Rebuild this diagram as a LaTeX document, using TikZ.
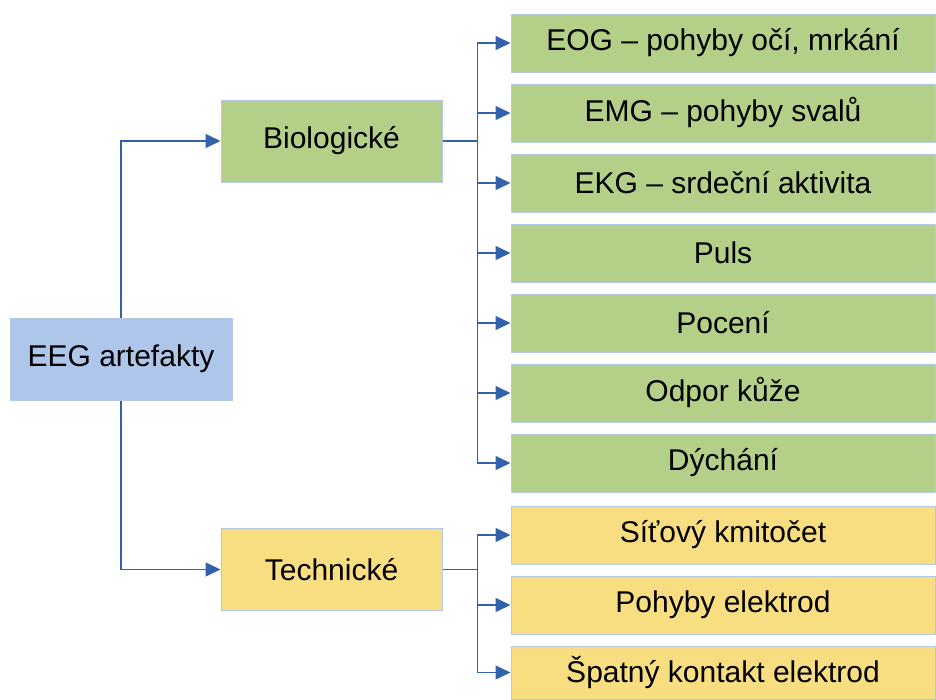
\documentclass[tikz,border=0pt]{standalone}
\usepackage{fontspec}
\setmainfont{Liberation Sans}
\usetikzlibrary{arrows.meta}
\definecolor{linkc}{RGB}{52,98,170}
\definecolor{edgec}{RGB}{180,200,232}
\definecolor{fblue}{RGB}{173,198,233}
\definecolor{fgreen}{RGB}{179,207,136}
\definecolor{fyell}{RGB}{248,222,128}
\tikzstyle{bblue}=[rectangle, draw=edgec, line width=1pt, fill=fblue, minimum width=222pt, minimum height=82pt]
\tikzstyle{bgreen}=[rectangle, draw=edgec, line width=1pt, fill=fgreen, minimum width=221pt, minimum height=82pt]
\tikzstyle{byell}=[rectangle, draw=edgec, line width=1pt, fill=fyell, minimum width=221pt, minimum height=82pt]
\tikzstyle{lgreen}=[bgreen, minimum width=424pt, minimum height=58pt]
\tikzstyle{lyell}=[byell, minimum width=424pt, minimum height=58pt]
\tikzstyle{conn}=[line width=1.4pt, draw=linkc, -{Triangle[length=15pt,width=14pt]}]

\begin{document}
\begin{tikzpicture}[x=1pt, y=-1pt, font=\fontsize{30}{35}\selectfont]
\useasboundingbox (0,0) rectangle (936,699);

\node[bblue] (root) at (121,359) {EEG artefakty};

\node[bgreen] (bio) at (331.5,141) {Biologické};
\node[byell] (tech) at (331.5,569.5) {Technické};

\node[lgreen] (b1) at (723,43) {EOG – pohyby očí, mrkání};
\node[lgreen] (b2) at (723,113) {EMG – pohyby svalů};
\node[lgreen] (b3) at (723,183) {EKG – srdeční aktivita};
\node[lgreen] (b4) at (723,253) {Puls};
\node[lgreen] (b5) at (723,323) {Pocení};
\node[lgreen] (b6) at (723,393) {Odpor kůže};
\node[lgreen] (b7) at (723,463) {Dýchání};

\node[lyell] (t1) at (723,535) {Síťový kmitočet};
\node[lyell] (t2) at (723,605) {Pohyby elektrod};
\node[lyell, minimum height=53pt] (t3) at (723,672.5) {Špatný kontakt elektrod};

\draw[conn] (root.north) |- (bio.west);
\draw[conn] (root.south) |- (tech.west);

\draw[conn] (bio.east) -- ++(35,0) |- (b1.west);
\draw[conn] (bio.east) -- ++(35,0) |- (b2.west);
\draw[conn] (bio.east) -- ++(35,0) |- (b3.west);
\draw[conn] (bio.east) -- ++(35,0) |- (b4.west);
\draw[conn] (bio.east) -- ++(35,0) |- (b5.west);
\draw[conn] (bio.east) -- ++(35,0) |- (b6.west);
\draw[conn] (bio.east) -- ++(35,0) |- (b7.west);

\draw[conn] (tech.east) -- ++(35,0) |- (t1.west);
\draw[conn] (tech.east) -- ++(35,0) |- (t2.west);
\draw[conn] (tech.east) -- ++(35,0) |- (t3.west);

\end{tikzpicture}
\end{document}
